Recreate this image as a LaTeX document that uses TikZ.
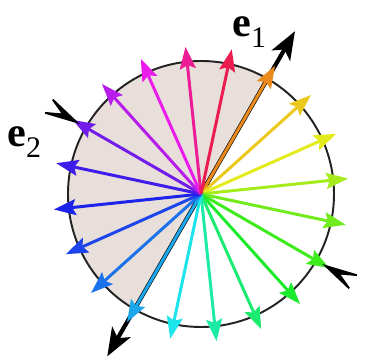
\documentclass[tikz,border=0pt]{standalone}
\usepackage{fontspec}
\usepackage{tikz}
\usetikzlibrary{arrows.meta, calc}
\newfontfamily\lblfont{Liberation Serif}
\definecolor{DiskFill}{HTML}{E8DEDA}
\definecolor{RimColor}{HTML}{222222}
\definecolor{AxisColor}{HTML}{000000}
\newcommand{\basis}[1]{{\bfseries e}\raisebox{-6.2pt}{\fontsize{17}{19}\selectfont\mdseries #1}}

\begin{document}
\begin{tikzpicture}[
        rim/.style={draw=RimColor, line width=1.1pt},
        half/.style={fill=DiskFill},
        spoke/.style={line width=1.7pt, -{Stealth[length=12.5pt, width=9pt, inset=2pt]}},
        axisarr/.style={line width=2.4pt, AxisColor, -{Stealth[length=16pt, width=12pt, inset=4pt]}},
        inarr/.style={line width=1pt, AxisColor, -{Stealth[length=25pt, width=12pt, inset=13pt]}},
        lbl/.style={font=\lblfont\fontsize{24}{28}\selectfont, inner sep=0pt, anchor=base west}
      ]
        \useasboundingbox (-4.02,-3.28) rectangle (3.30,3.88);

        % shaded half disk and rim
        \fill[half] (0,0) -- (60:2.66) arc[start angle=60, end angle=240, radius=2.66] -- cycle;
        \draw[rim] (0,0) circle[radius=2.66];

        \coordinate (o) at (0,0);
        \coordinate (e1tip) at (60:3.76);
        \coordinate (me1tip) at (240:3.75);
        \coordinate (e2back) at (150:3.24);
        \coordinate (e2tip) at (150:2.8);
        \coordinate (me2back) at (-30:3.24);
        \coordinate (me2tip) at (-30:2.8);

        % e1 axis
        \draw[axisarr] (o) -- (e1tip);
        \draw[axisarr] (o) -- (me1tip);

        % coloured spokes
        \foreach \hue [count=\k from 0] in {32,50,62,80,95,110,125,145,160,182,200,215,228,238,250,265,285,300,325,345}{
          \pgfmathsetmacro\ang{60-18*\k}
          \definecolor{spokecol}{Hsb}{\hue,0.88,0.92}
          \draw[spoke, spokecol] (o) -- (\ang:2.96);
        }

        % e2 axis, pointing in
        \draw[inarr] (e2back) -- (e2tip);
        \draw[inarr] (me2back) -- (me2tip);

        \node[lbl] (e1lbl) at (0.62,3.14) {\basis{1}};
        \node[lbl] (e2lbl) at (-3.88,0.94) {\basis{2}};
      \end{tikzpicture}
\end{document}
